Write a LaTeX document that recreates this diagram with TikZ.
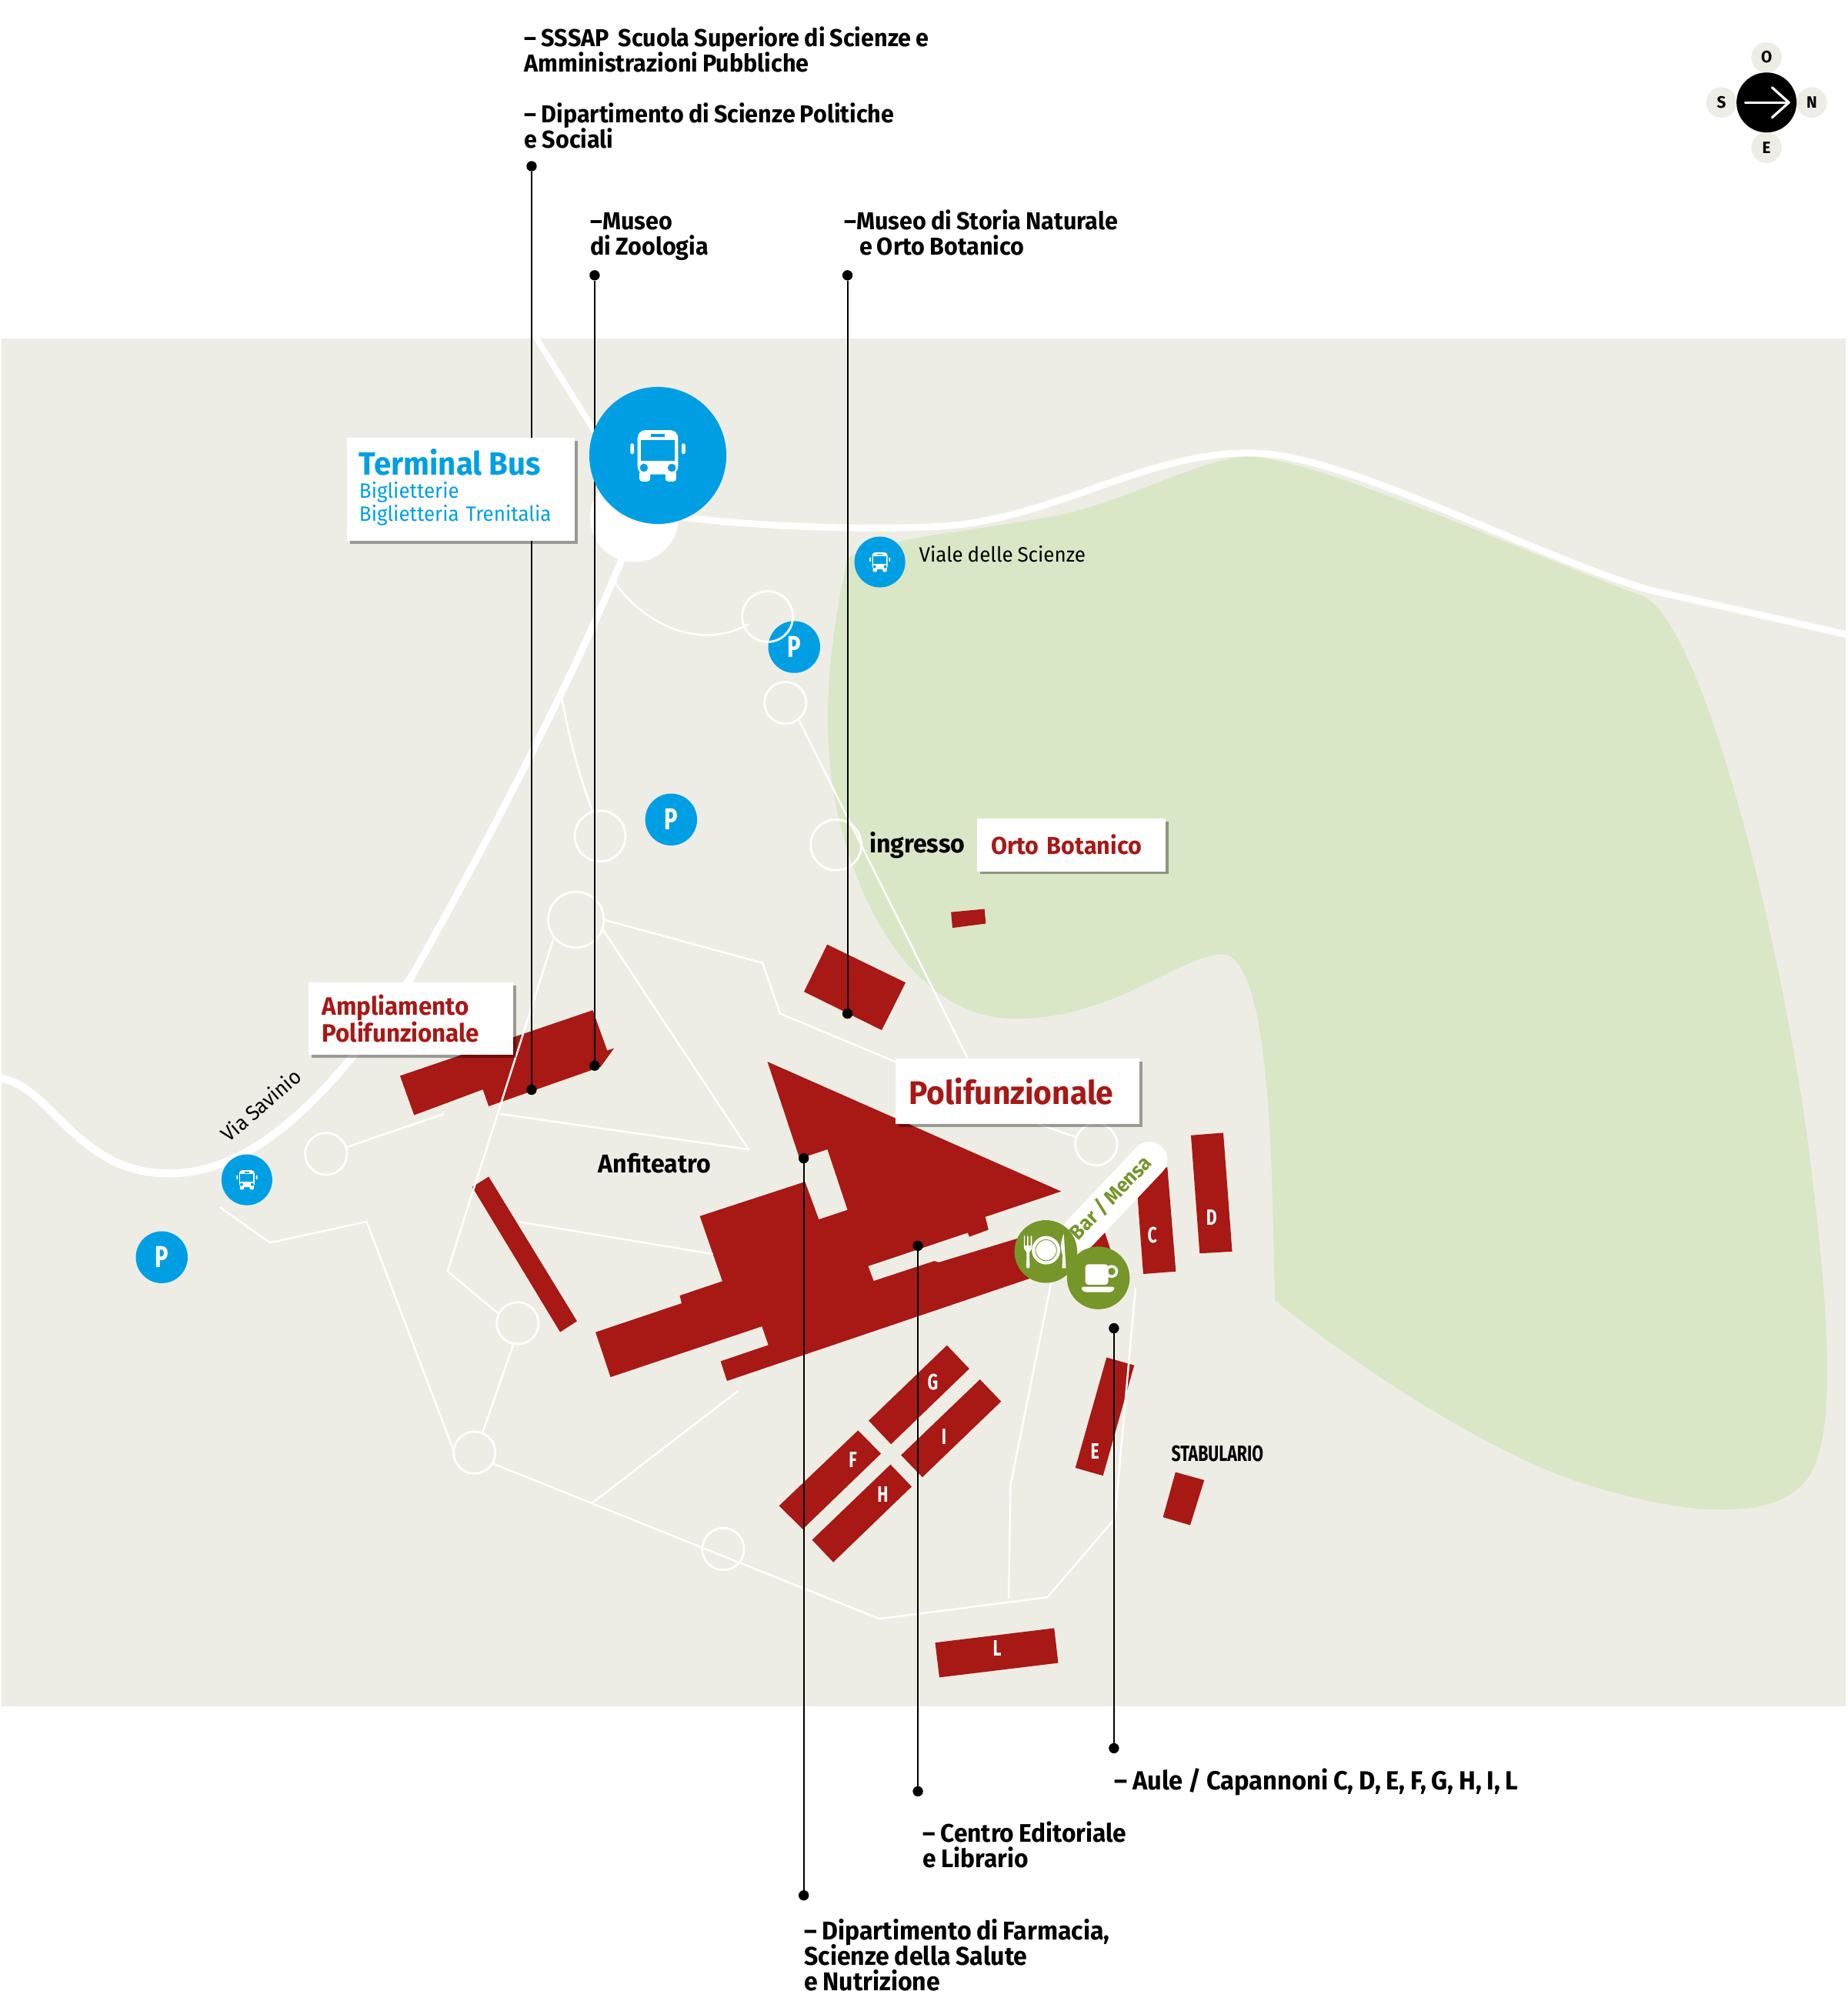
\documentclass[tikz,border=0pt]{standalone}
\usepackage{fontspec}
\setmainfont[FakeStretch=0.96,WordSpace=0.85]{Fira Sans}
\newfontfamily\narrowface[FakeStretch=0.74]{Fira Sans}
\usetikzlibrary{shadows}
\definecolor{ground}{HTML}{EDEDE5}
\definecolor{park}{HTML}{D9E7C6}
\definecolor{brick}{HTML}{A81815}
\definecolor{busblue}{HTML}{009FE3}
\definecolor{olive}{HTML}{76962A}
\newcommand{\fs}[1]{\fontsize{#1}{#1}\selectfont}
\tikzset{
block/.style={fill=brick},
road/.style={draw=white, line width=#1, line cap=round},
walk/.style={draw=white, line width=0.7pt, line join=miter},
ring/.style={circle, draw=white, line width=0.8pt, inner sep=0pt, outer sep=0pt, minimum size=#1},
stop/.style={circle, fill=busblue, inner sep=0pt, outer sep=0pt, minimum size=#1},
parking/.style={stop=19.2pt, text=white, font=\narrowface\fs{11.2}\bfseries},
pin/.style={circle, fill=black, inner sep=0pt, outer sep=0pt, minimum size=3.8pt},
leader/.style={draw=black, line width=0.6pt},
caption/.style={font=\fontsize{#1}{9.38}\selectfont\bfseries\lineskiplimit-5pt\relax, align=left, inner sep=0pt, anchor=north west},
caption/.default={9.05},
letter/.style={text=white, font=\narrowface\fs{8.2}\bfseries, inner sep=0pt},
sign/.style={fill=white, inner ysep=0pt, outer sep=0pt, anchor=north west, align=left,
	drop shadow={shadow xshift=1.1pt, shadow yshift=-1.1pt, fill=black, opacity=0.35}},
compass/.style={circle, fill=ground, inner sep=0pt, minimum size=11.3pt, font=\fs{6.1}\bfseries}
}
% bus drawn round its middle
\newcommand{\busicon}[3]{
	\begin{scope}[shift={(#1,#2)}, scale=#3]
		\fill[white, rounded corners=#3*3pt] (-16,15) -- (-16,-20) -- (16,-20) -- (16,15) -- cycle;
		\fill[white, rounded corners=#3*1pt] (-14.5,12) rectangle (-6,20.5);
		\fill[white, rounded corners=#3*1pt] (6,12) rectangle (14.5,20.5);
		\fill[white, rounded corners=#3*0.5pt] (-21.7,-9.5) rectangle (-18.8,-1);
		\fill[white, rounded corners=#3*0.5pt] (18.8,-9.5) rectangle (21.7,-1);
		\fill[busblue] (-13.5,-12) rectangle (13.5,4);
		\fill[busblue] (-5.4,-17) rectangle (5.4,-14.5);
		\fill[busblue] (-11,9.7) circle (3.2);
		\fill[busblue] (11,9.7) circle (3.2);
	\end{scope}
}

\begin{document}
\begin{tikzpicture}[x=0.01649cm, y=-0.01649cm]
	\useasboundingbox (0,0) rectangle (1456,1569.4);
	% ground and park
	\fill[ground] (1,267) rectangle (1455,1345);
	\fill[park] (668,440) .. controls (690,425) and (760,420) .. (840,405)
		.. controls (900,390) and (950,360) .. (985,360)
		.. controls (1040,362) and (1200,435) .. (1295,470)
		.. controls (1340,490) and (1400,720) .. (1425,900)
		.. controls (1440,1020) and (1450,1130) .. (1425,1165)
		.. controls (1400,1200) and (1330,1195) .. (1250,1170)
		.. controls (1170,1145) and (1060,1070) .. (1005,1025)
		.. controls (1002,950) and (1005,760) .. (965,752)
		.. controls (930,752) and (880,803) .. (800,803)
		.. controls (730,803) and (680,730) .. (660,640)
		.. controls (645,570) and (655,500) .. (668,440) -- cycle;
	% roads
	\draw[road=2.5pt] (540,408) .. controls (600,415) and (680,418) .. (740,415)
		.. controls (830,410) and (900,357) .. (985,357)
		.. controls (1060,357) and (1200,435) .. (1300,465) -- (1455,500);
	\draw[road=2.2pt] (423,267) -- (470,342);
	\draw[road=2.9pt, line cap=butt] (0,850) .. controls (40,855) and (60,925) .. (133,925)
		.. controls (200,925) and (260,865) .. (325,769);
	\draw[road=2.6pt, line cap=butt] (323,772) .. controls (370,690) and (450,540) .. (490,441);
	\fill[white] (500,408) circle (35);
	% buildings
	\fill[block] (749.6,719) -- (776,716.5) -- (777,728) -- (750.7,731.4) -- cycle;
	\fill[block] (652,744.5) -- (713.8,774.5) -- (695,812) -- (633.7,781.7) -- cycle;
	\fill[block] (315.3,848) -- (467.2,796.3) -- (478.6,828) -- (484,826.3) -- (473.4,841)
		-- (385.2,872) -- (380.6,858.8) -- (326.4,879) -- cycle;
	\fill[block] (385.2,927.5) -- (454.8,1041.4) -- (441.5,1050) -- (372.2,935.6) -- cycle;
	\fill[block] (604.9,836.9) -- (836.4,939.1) -- (776.6,959.2) -- (779.1,969.3) -- (764,974.9)
		-- (762.8,971.7) -- (684.3,998) -- (688.6,1009.7) -- (736.4,994) -- (740.1,995)
		-- (801.7,976.3) -- (811.8,1007.7) -- (573,1088.5) -- (568,1073) -- (605.6,1060.2)
		-- (600.6,1045.5) -- (481.2,1085.5) -- (469.4,1050.1) -- (537.3,1027.3) -- (535.8,1021.2)
		-- (569.4,1009.9) -- (551.6,958.6) -- (634.5,931.5) -- (645.4,961.2) -- (668,953.7)
		-- (652.2,906) -- (630.3,913.3) -- cycle;
	\fill[block] (851,984) -- (870,969) -- (875,984) -- (860,995) -- cycle;
	\fill[block] (896,935) -- (920.1,919.8) -- (926.8,1002.2) -- (901.1,1004.2) -- cycle;
	\fill[block] (938.7,894.9) -- (964.2,892.9) -- (971.2,986.5) -- (945.6,988) -- cycle;
	\fill[block] (872.2,1070) -- (894,1076.2) -- (869.4,1163.2) -- (847.6,1157) -- cycle;
	\fill[block] (926.5,1160.4) -- (949.2,1166.7) -- (938.1,1202.2) -- (916.7,1195.9) -- cycle;
	\fill[block] (737.1,1294.8) -- (830.9,1283.4) -- (834.1,1310.8) -- (740.4,1322.2) -- cycle;
	\fill[block] (746.4,1060.4) -- (764,1078.9) -- (702.3,1138.4) -- (684.7,1119.8) -- cycle;
	\fill[block] (772.4,1087.3) -- (789.1,1104.7) -- (727,1164.4) -- (710.2,1147) -- cycle;
	\fill[block] (676.3,1127.5) -- (694.4,1145.8) -- (632.7,1205.4) -- (614.1,1186.9) -- cycle;
	\fill[block] (701.9,1154.4) -- (718.6,1171.8) -- (656.8,1231.4) -- (640.1,1213.8) -- cycle;
	\node[letter] (letterC) at (908.2,973.7) {C};
	\node[letter] (letterD) at (955,959.8) {D};
	\node[letter] (letterE) at (863,1143.9) {E};
	\node[letter] (letterF) at (672.2,1150.4) {F};
	\node[letter] (letterG) at (735.3,1089.6) {G};
	\node[letter] (letterH) at (695.8,1177.8) {H};
	\node[letter] (letterI) at (744.1,1132.6) {I};
	\node[letter] (letterL) at (785.9,1299.4) {L};
	% parking and small stops
	\node[parking] (parkA) at (626,510) {P};
	\node[parking] (parkB) at (529,646) {P};
	\node[parking] (parkC) at (127.5,991) {P};
	\node[stop=18.8pt] (stopViale) at (693.5,443) {};
	\node[stop=18.8pt] (stopSavinio) at (194.6,930) {};
	\busicon{693.5}{443}{0.38}
	\busicon{194.6}{930}{0.38}
	% entrances
	\foreach \name/\x/\y/\d in {ringA/605/486/40, ringB/619/554/33, ringC/473/659/40,
		ringD/659/666/40, ringE/454/725/44, ringF/257/909.5/33, ringG/408/1043/33,
		ringH/374/1145/33, ringI/570/1221/33, ringJ/864/902/33}
		\node[ring=\d*0.469pt] (\name) at (\x,\y) {};
	% paths
	\draw[walk] (484,458) .. controls (505,490) and (550,514) .. (590,492);
	\draw[walk] (442,545) .. controls (448,580) and (456,610) .. (ringC.107);
	\draw[walk] (ringB.-51) -- (763,835);
	\draw[walk] (ringE.0) -- (601,759) -- (615,799) -- (706,837);
	\draw[walk] (ringE.-19) -- (590,906) -- (394,878);
	\draw[walk] (ringE.218) -- (352.7,1002) -- (ringG.154);
	\draw[walk] (ringG.-101) -- (ringH.68);
	\draw[walk] (ringF.18) -- (350,878);
	\draw[walk] (173.3,951.6) -- (212.9,979.5) -- (289,963) -- (ringH.175);
	\draw[walk] (408.4,963) -- (562,988.5);
	\draw[walk] (ringH.-31) -- (693,1276) -- (825.6,1259) -- (878.7,1197) -- (895,1015);
	\draw[walk] (795,1260) -- (796.5,1170.4) -- (829,1008.6);
	\draw[walk] (466.4,1185) -- (581.6,1096.4);
	\draw[walk] (ringJ.160) -- (818,886);
	% leaders
	\node[pin] (ssapTop) at (419,131) {};
	\node[pin] (ssapEnd) at (419,859) {};
	\node[pin] (zooTop) at (468.7,217) {};
	\node[pin] (zooEnd) at (468.7,840) {};
	\node[pin] (ortoTop) at (668,217) {};
	\node[pin] (ortoEnd) at (668,799) {};
	\node[pin] (farmaTop) at (633.5,913) {};
	\node[pin] (farmaEnd) at (633.5,1494) {};
	\node[pin] (centroTop) at (723.5,982) {};
	\node[pin] (centroEnd) at (723.5,1412) {};
	\node[pin] (auleTop) at (878,1047) {};
	\node[pin] (auleEnd) at (878,1378) {};
	\draw[leader] (ssapTop) -- (ssapEnd);
	\draw[leader] (zooTop) -- (zooEnd);
	\draw[leader] (ortoTop) -- (ortoEnd);
	\draw[leader] (farmaTop) -- (farmaEnd);
	\draw[leader] (centroTop) -- (centroEnd);
	\draw[leader] (auleTop) -- (auleEnd);
	% terminal
	\node[stop=50.7pt] (terminal) at (518.5,359) {};
	\busicon{518.5}{359}{1}
	% signs
	\node[sign, minimum width=84.2pt, minimum height=38.2pt, text width=75.2pt, text=busblue, inner xsep=4.5pt, font=\fontsize{7.7}{8.5}\selectfont] (signBus) at (273.6,345)
		{{\fontsize{11.9}{8.5}\selectfont\bfseries Terminal Bus}\\Biglietterie\\Biglietteria Trenitalia\\[-5.5pt]\mbox{}};
	\node[sign, minimum width=75.8pt, minimum height=26.8pt, text width=65.8pt, text=brick, inner xsep=5pt, font=\fontsize{9.3}{10}\selectfont\bfseries] (signAmpl) at (243.2,774.4)
		{Ampliamento\\Polifunzionale};
	\node[sign, minimum width=90.4pt, minimum height=24.2pt, text width=80.2pt, text=brick, inner xsep=5.1pt, font=\fs{12.08}\bfseries] (signPoli) at (705.7,834.5) {Polifunzionale};
	\node[sign, minimum width=69.6pt, minimum height=19.6pt, text width=59.6pt, text=brick, inner xsep=5pt, font=\fs{9.05}\bfseries] (signOrto) at (770.4,645) {Orto Botanico};
	% bar and mensa
	\draw[road=13.2pt] (906,914) -- (851,972);
	\node[text=olive, font=\fs{7.6}\bfseries, rotate=46, inner sep=0pt] (barMensa) at (875.2,944) {Bar / Mensa};
	\node[circle, fill=olive, inner sep=0pt, minimum size=23.2pt] (mensa) at (824.3,986.5) {};
	\fill[white] (824.5,985.5) circle (11.2);
	\draw[olive, line width=0.25pt] (824.5,985.5) circle (8.3);
	\fill[white, rounded corners=0.3pt] (807,974) -- (807.8,974) -- (807.8,982) -- (809.6,982) -- (809.6,974) -- (810.6,974) -- (810.6,982)
		-- (812.4,982) -- (812.4,974) -- (813.4,974) -- (813.4,984) -- (811.4,987) -- (811.6,999.6) -- (809,999.6) -- (809.2,987) -- (807,984) -- cycle;
	\fill[white] (838.5,972.7) .. controls (836,978) and (835.5,984) .. (837.5,989) -- (837.2,999.6) -- (840.2,999.6) -- cycle;
	\node[circle, fill=olive, inner sep=0pt, minimum size=23.2pt] (bar) at (865.7,1007.3) {};
	\draw[white, line width=1pt] (876.2,1002.2) circle (4);
	\fill[white, rounded corners=1.2pt] (855.4,996.5) -- (873.6,996.5) -- (873.6,1012.7) -- (855.4,1012.7) -- cycle;
	\fill[white, rounded corners=1.2pt] (851.4,1014.3) -- (879.3,1014.3) -- (877,1018.6) -- (854,1018.6) -- cycle;
	% free labels
	\node[font=\fs{9.5}\bfseries, inner sep=0pt] (ingresso) at (723,666) {ingresso};
	\node[font=\fs{9.5}\bfseries, inner sep=0pt] (anfiteatro) at (516,917) {Anfiteatro};
	\node[font=\fs{7.7}, rotate=41, inner sep=0pt] (viaSavinio) at (205.5,871) {Via Savinio};
	\node[font=\fs{7.7}, inner sep=0pt, anchor=west] (vialeScienze) at (724,436.5) {Viale delle Scienze};
	\node[font=\narrowface\fs{8.2}\bfseries, inner sep=0pt] (stabulario) at (959.5,1146) {STABULARIO};
	\node[caption] (capSsap) at (413,20.5) {– SSSAP \ Scuola Superiore di Scienze e\\Amministrazioni Pubbliche\\[9.38pt]– Dipartimento di Scienze Politiche\\e Sociali};
	\node[caption] (capZoo) at (465,167) {–Museo\\di Zoologia};
	\node[caption] (capOrto) at (665,165) {–Museo di Storia Naturale\\\hspace*{5.6pt}e Orto Botanico};
	\node[caption=9.7] (capAule) at (878,1393.5) {– Aule / Capannoni C, D, E, F, G, H, I, L};
	\node[caption=9.4] (capCentro) at (727,1435.5) {– Centro Editoriale\\e Librario};
	\node[caption=9.5] (capFarma) at (633.5,1512) {– Dipartimento di Farmacia,\\Scienze della Salute\\e Nutrizione};
	% compass
	\node[compass] (compassO) at (1392.4,45.2) {O};
	\node[compass] (compassS) at (1356.8,80.8) {S};
	\node[compass] (compassN) at (1428,80.8) {N};
	\node[compass] (compassE) at (1392.4,116.4) {E};
	\node[circle, fill=black, inner sep=0pt, minimum size=22.2pt] (compassC) at (1392.4,80.8) {};
	\draw[white, line width=0.9pt, line cap=round, line join=round] (1375.6,80.8) -- (1410,80.8);
	\draw[white, line width=0.9pt, line cap=round, line join=round] (1396.8,69) -- (1410,80.8) -- (1396.8,92.6);
\end{tikzpicture}
\end{document}
